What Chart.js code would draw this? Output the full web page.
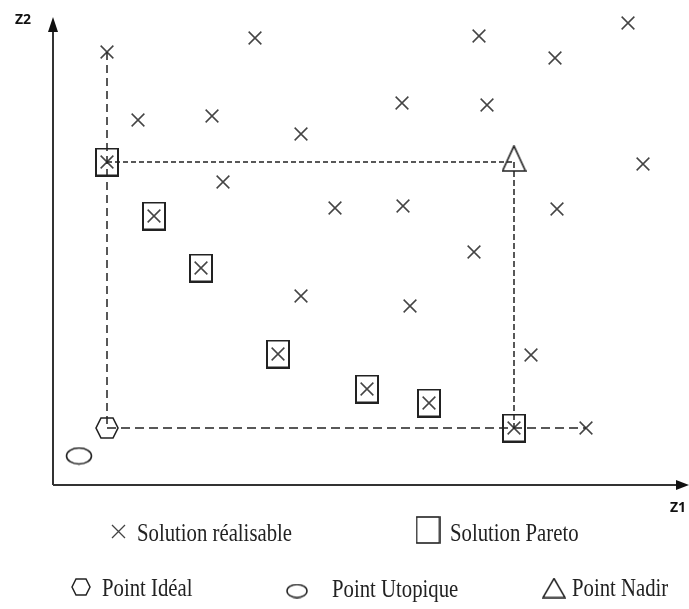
<!DOCTYPE html>
<html>
<head>
<meta charset="utf-8"/>
<title>Front de Pareto</title>
<script src="https://cdn.jsdelivr.net/npm/chart.js"></script>
<style>
  body { margin: 0; background: #fff; }
  .wrap { position: relative; width: 689px; height: 609px; }
  .lbl {
    position: absolute;
    font-family: 'Liberation Serif', 'Times New Roman', serif;
    font-size: 25px;
    line-height: 25px;
    color: #222;
    white-space: nowrap;
    transform-origin: left top;
    transform: scaleX(0.83);
  }
  .axis {
    position: absolute;
    font-family: 'Open Sans', sans-serif;
    font-weight: bold;
    font-size: 14px;
    line-height: 14px;
    color: #111;
  }
</style>
</head>
<body>
<div class="wrap">
  <canvas id="pareto"></canvas>
  <span class="axis" style="left:15px; top:12px">Z2</span>
  <span class="axis" style="left:670px; top:500px">Z1</span>
  <span class="lbl" style="left:137px; top:520px">Solution réalisable</span>
  <span class="lbl" style="left:450px; top:520px">Solution Pareto</span>
  <span class="lbl" style="left:102px; top:575px">Point Idéal</span>
  <span class="lbl" style="left:332px; top:576px">Point Utopique</span>
  <span class="lbl" style="left:572px; top:575px">Point Nadir</span>
</div>
<script>
  // valeurs (unites arbitraires, origine au coin des axes)
  const realisableZ1 = [54, 202, 426, 575, 502, 85, 159, 349, 434, 248, 54, 590, 170, 101,
                        282, 350, 504, 148, 421, 248, 357, 225, 478, 314, 376, 461, 533];
  const realisableZ2 = [433, 447, 449, 462, 427, 365, 369, 382, 380, 351, 323, 321, 303, 269,
                        277, 279, 276, 217, 233, 189, 179, 131, 130, 96, 82, 57, 57];
  const paretoZ1 = [54, 101, 148, 225, 314, 376, 461];
  const paretoZ2 = [323, 269, 217, 131, 96, 82, 57];
  const idealPoint = [54, 57];
  const utopiquePoint = [26, 29];
  const nadirPoint = [461, 323];
  const zMax = [636, 475];

  const ink = '#222';

  function makeSymbol(w, h, lw, draw) {
    const c = document.createElement('canvas');
    c.width = w; c.height = h;
    const g = c.getContext('2d');
    g.strokeStyle = ink;
    g.lineWidth = lw;
    draw(g);
    return c;
  }

  const rectSym = makeSymbol(24, 29, 2, g => g.strokeRect(1, 1, 22, 27));
  const hexSym = makeSymbol(24, 22, 1.6, g => {
    g.beginPath();
    g.moveTo(1, 11); g.lineTo(6, 1); g.lineTo(18, 1);
    g.lineTo(23, 11); g.lineTo(18, 21); g.lineTo(6, 21);
    g.closePath(); g.stroke();
  });
  const ellSym = makeSymbol(28, 19, 1.6, g => {
    g.beginPath(); g.ellipse(14, 9.5, 12.5, 8, 0, 0, 2 * Math.PI); g.stroke();
  });
  // triangle un peu au-dessus du point (la pointe depasse le coin)
  const triSym = makeSymbol(25, 34, 1.7, g => {
    g.beginPath(); g.moveTo(12.5, 1); g.lineTo(24, 26); g.lineTo(1, 26);
    g.closePath(); g.stroke();
  });

  // petits symboles pour la legende
  const rectSmall = makeSymbol(25, 28, 1.6, g => g.strokeRect(1, 1, 23, 26));
  const hexSmall = makeSymbol(20, 18, 1.5, g => {
    g.beginPath();
    g.moveTo(1, 9); g.lineTo(5, 1); g.lineTo(15, 1);
    g.lineTo(19, 9); g.lineTo(15, 17); g.lineTo(5, 17);
    g.closePath(); g.stroke();
  });
  const ellSmall = makeSymbol(22, 15, 1.5, g => {
    g.beginPath(); g.ellipse(11, 7.5, 10, 6.5, 0, 0, 2 * Math.PI); g.stroke();
  });
  const triSmall = makeSymbol(24, 21, 1.5, g => {
    g.beginPath(); g.moveTo(12, 1); g.lineTo(23, 20); g.lineTo(1, 20);
    g.closePath(); g.stroke();
  });

  const pts = (xs, ys) => xs.map((x, i) => ({ x: x, y: ys[i] }));
  const seg = (a, b) => [{ x: a[0], y: a[1] }, { x: b[0], y: b[1] }];
  const one = p => [{ x: p[0], y: p[1] }];

  const topLeft = [realisableZ1[0], realisableZ2[0]];
  const lastRight = [realisableZ1[26], realisableZ2[26]];

  const axesPlugin = {
    id: 'axes',
    beforeDatasetsDraw(chart) {
      const { ctx, chartArea: a } = chart;
      ctx.save();
      ctx.strokeStyle = '#333';
      ctx.fillStyle = '#111';
      ctx.lineWidth = 2;
      ctx.beginPath();
      ctx.moveTo(a.left, a.bottom); ctx.lineTo(a.left, a.top + 12);
      ctx.moveTo(a.left, a.bottom); ctx.lineTo(a.right - 8, a.bottom);
      ctx.stroke();
      ctx.beginPath();
      ctx.moveTo(a.left, a.top + 7); ctx.lineTo(a.left - 5, a.top + 22); ctx.lineTo(a.left + 5, a.top + 22);
      ctx.closePath(); ctx.fill();
      ctx.beginPath();
      ctx.moveTo(a.right, a.bottom); ctx.lineTo(a.right - 13, a.bottom - 5); ctx.lineTo(a.right - 13, a.bottom + 5);
      ctx.closePath(); ctx.fill();
      ctx.restore();
    },
    afterDraw(chart) {
      const ctx = chart.ctx;
      ctx.save();
      // legende
      ctx.strokeStyle = '#444';
      ctx.lineWidth = 1.3;
      ctx.beginPath();
      ctx.moveTo(112, 525); ctx.lineTo(125, 538);
      ctx.moveTo(125, 525); ctx.lineTo(112, 538);
      ctx.stroke();
      const put = (img, x, y) => ctx.drawImage(img, x - img.width / 2, y - img.height / 2);
      put(rectSmall, 428, 530);
      put(hexSmall, 81, 587);
      put(ellSmall, 297, 591);
      put(triSmall, 554, 588);
      ctx.restore();
    }
  };

  new Chart(document.getElementById('pareto'), {
    type: 'scatter',
    data: {
      datasets: [
        { data: seg(topLeft, idealPoint), showLine: true, borderColor: ink, borderWidth: 1.5, borderDash: [8, 5], pointRadius: 0 },
        { data: seg(idealPoint, lastRight), showLine: true, borderColor: ink, borderWidth: 1.5, borderDash: [9, 5], pointRadius: 0 },
        { data: seg([idealPoint[0], nadirPoint[1]], nadirPoint), showLine: true, borderColor: ink, borderWidth: 1.5, borderDash: [5, 3], pointRadius: 0 },
        { data: seg(nadirPoint, [nadirPoint[0], idealPoint[1]]), showLine: true, borderColor: ink, borderWidth: 1.5, borderDash: [6, 3], pointRadius: 0 },
        { label: 'Solution réalisable', data: pts(realisableZ1, realisableZ2), pointStyle: 'crossRot', radius: 9, borderColor: '#444', borderWidth: 1.5 },
        { label: 'Solution Pareto', data: pts(paretoZ1, paretoZ2), pointStyle: rectSym, radius: 10 },
        { label: 'Point Idéal', data: one(idealPoint), pointStyle: hexSym, radius: 10 },
        { label: 'Point Utopique', data: one(utopiquePoint), pointStyle: ellSym, radius: 10 },
        { label: 'Point Nadir', data: one(nadirPoint), pointStyle: triSym, radius: 10 }
      ]
    },
    options: {
      responsive: true,
      maintainAspectRatio: false,
      animation: false,
      layout: { autoPadding: false, padding: { left: 53, top: 10, right: 0, bottom: 124 } },
      plugins: { legend: { display: false }, tooltip: { enabled: false } },
      scales: {
        x: { type: 'linear', min: 0, max: zMax[0], display: false },
        y: { type: 'linear', min: 0, max: zMax[1], display: false }
      }
    },
    plugins: [axesPlugin]
  });
</script>
</body>
</html>
